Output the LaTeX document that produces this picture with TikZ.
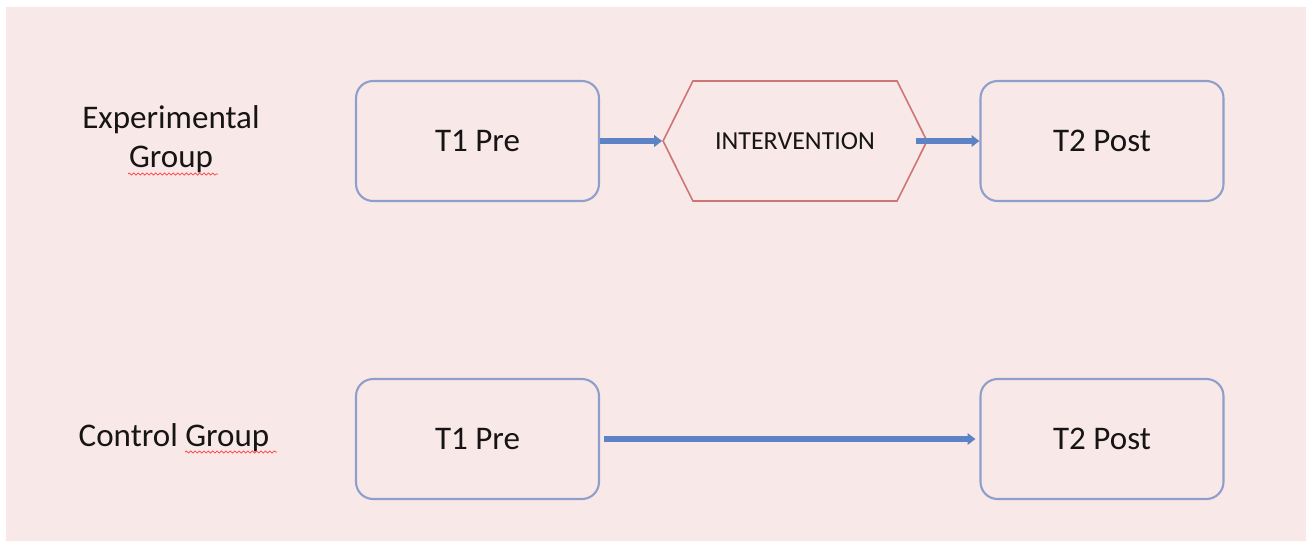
\documentclass[tikz,border=0pt]{standalone}
\usepackage{fontspec}
\setmainfont{Carlito}
\usetikzlibrary{shapes.symbols,arrows.meta,positioning,decorations.pathmorphing}

\definecolor{bgpink}{HTML}{F9E8E8}
\definecolor{boxblue}{HTML}{8E9FCB}
\definecolor{arrowblue}{HTML}{5E82C6}
\definecolor{hexred}{HTML}{CD7474}
\definecolor{txtdark}{HTML}{161414}

\tikzset{
  stagebox/.style={draw=boxblue, line width=1.2pt, rounded corners=0.34cm,
    minimum width=4.86cm, minimum height=2.4cm, text=txtdark,
    font=\fontsize{18.8}{23}\selectfont},
  treatbox/.style={draw=hexred, line width=0.9pt, signal, signal to=west and east,
    signal pointer angle=127, minimum width=5.28cm, minimum height=2.4cm,
    text=txtdark, font=\fontsize{14.8}{18}\selectfont},
  grouplabel/.style={text=txtdark, align=center, font=\fontsize{18.8}{22.2}\selectfont},
  flow/.style={draw=arrowblue, line width=3.3pt, -{Triangle[width=6.5pt,length=4.5pt]}},
  squiggle/.style={draw=red!75, line width=0.4pt,
    decorate, decoration={snake, amplitude=0.6pt, segment length=2.5pt}}
}

\begin{document}
\begin{tikzpicture}[x=0.02cm,y=-0.02cm]
\useasboundingbox (0,0) rectangle (1309,542);
\fill[bgpink] (6,7) rectangle (1306,541);

\node[grouplabel] (lexp) at (171,139) {Experimental\\Group};
\node[grouplabel] (lctl) at (174,438) {Control Group};

\node[stagebox] (pre1) at (477.5,141) {T1 Pre};
\node[treatbox] (interv) at (795,141) {INTERVENTION};
\node[stagebox] (post1) at (1102,141) {T2 Post};

\node[stagebox] (pre2) at (477.5,439) {T1 Pre};
\node[stagebox] (post2) at (1102,439) {T2 Post};

\draw[flow] (pre1) -- (interv.west);
\draw[flow] ([xshift=-12*0.02cm]interv.east) -- (post1);
\draw[flow, shorten <=4*0.02cm, shorten >=4*0.02cm] (pre2) -- (post2);

\draw[squiggle] (128,174) -- (218,174);
\draw[squiggle] (185,452) -- (277,452);
\end{tikzpicture}
\end{document}
